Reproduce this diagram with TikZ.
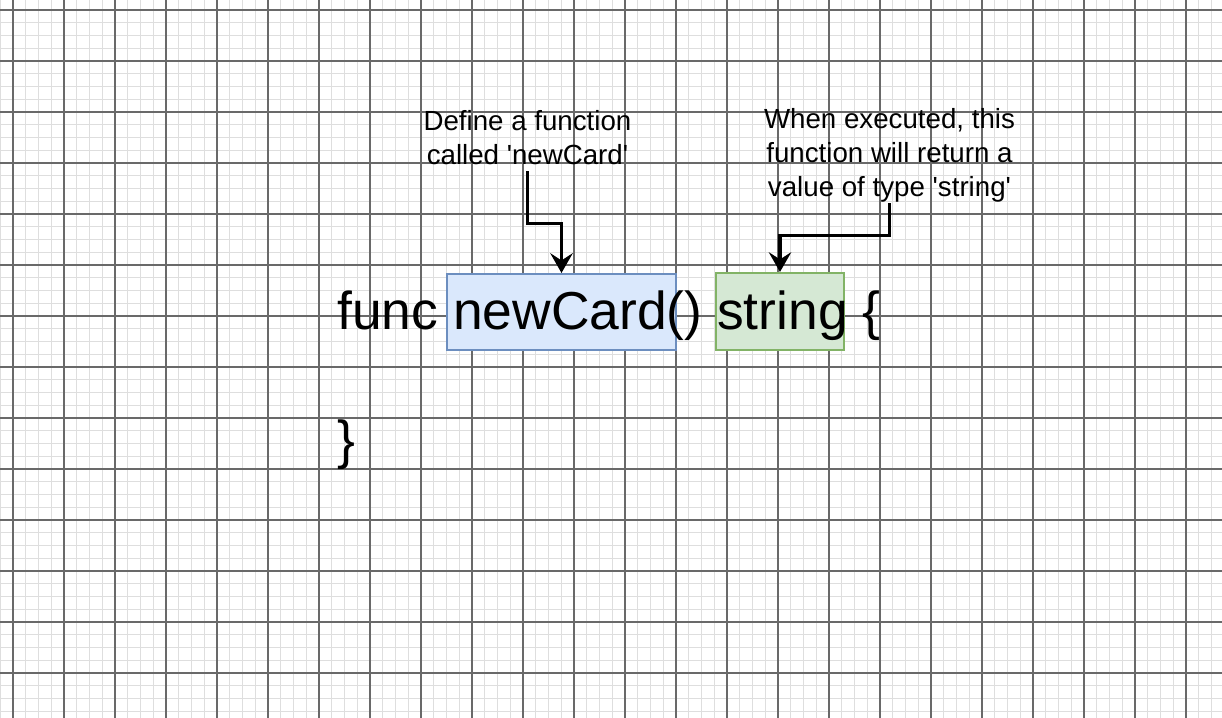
\documentclass[tikz,border=0pt]{standalone}
\usepackage{fontspec}
\setmainfont{Liberation Sans}
\usetikzlibrary{arrows.meta}

\definecolor{minorgray}{RGB}{222,222,222}
\definecolor{majorgray}{RGB}{105,105,105}
\definecolor{nameblue}{HTML}{DAE8FC}
\definecolor{nameborder}{HTML}{6C8EBF}
\definecolor{typegreen}{HTML}{D5E8D4}
\definecolor{typeborder}{HTML}{82B366}

\begin{document}
\begin{tikzpicture}[
  minorline/.style={minorgray, line width=0.8pt},
  majorline/.style={majorgray, line width=0.6pt},
  codebox/.style={rectangle, draw, line width=1.1pt, inner sep=0pt},
  code/.style={inner sep=0pt, anchor=base west, font=\fontsize{29.8}{36}\selectfont},
  note/.style={inner sep=0pt, align=center, anchor=base, text depth=0.118cm, font=\fontsize{15.45}{18.97}\selectfont},
  pointer/.style={-{Stealth[length=11pt, width=12.5pt, inset=4pt]}, line width=1.7pt}
]

% Page
\fill[white] (0,0) rectangle (23.961,14.078);
\useasboundingbox (0,0) rectangle (23.961,14.078);

% Grid
\begin{scope}[shift={(0.255,0.882)}]
  \draw[minorline, step=0.25] (-0.255,-0.882) grid (23.706,13.196);
  \draw[majorline, step=1] (-0.255,-0.882) grid (23.706,13.196);
\end{scope}

% Highlight boxes
\node[codebox, draw=nameborder, fill=nameblue, minimum width=4.49cm, minimum height=1.49cm] (nameBox) at (11.010,7.961) {};
\node[codebox, draw=typeborder, fill=typegreen, minimum width=2.51cm, minimum height=1.51cm] (typeBox) at (15.294,7.971) {};

% Code
\node[code] (codeLine) at (6.608,7.618) {func newCard() string \{};
\node[code] (closeBrace) at (6.608,5.078) {\}};

% Notes (base = last line)
\node[note] (nameNote) at (10.343,10.843) {Define a function\\called \textquotesingle newCard\textquotesingle};
\node[note] (typeNote) at (17.441,10.216) {When executed, this\\function will return a\\value of type \textquotesingle string\textquotesingle};

% Arrows
\draw[pointer] (nameNote.south) -- ++(0,-1.019) -| (nameBox.north);
\draw[pointer] (typeNote.south) -- ++(0,-0.627) -| (typeBox.north);

\end{tikzpicture}
\end{document}
